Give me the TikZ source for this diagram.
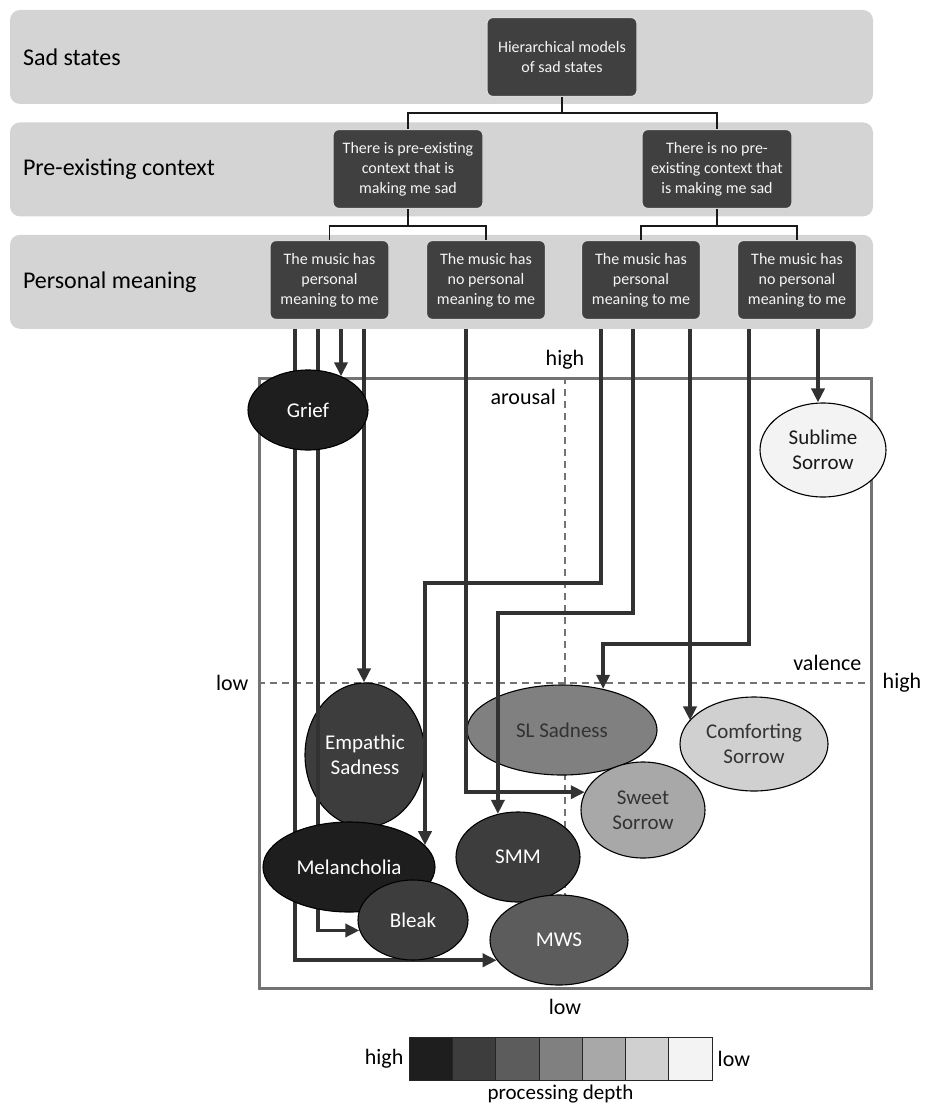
\documentclass[tikz,border=0pt]{standalone}
\usepackage{fontspec}
\setmainfont{Carlito}
\usetikzlibrary{arrows.meta,positioning,shapes.geometric,backgrounds}

\definecolor{bandgray}{HTML}{D4D4D4}
\definecolor{boxgray}{HTML}{404040}
\definecolor{linegray}{HTML}{323232}
\definecolor{framegray}{HTML}{737373}
\definecolor{pd1}{HTML}{1E1E1E}
\definecolor{pd2}{HTML}{3D3D3D}
\definecolor{pd3}{HTML}{5C5C5C}
\definecolor{pd4}{HTML}{808080}
\definecolor{pd5}{HTML}{A8A8A8}
\definecolor{pd6}{HTML}{D0D0D0}
\definecolor{pd7}{HTML}{F3F3F3}

\begin{document}
\begin{tikzpicture}
	[x=1pt, y=-1pt,
	band/.style={rectangle, rounded corners=10pt, fill=bandgray, minimum width=863pt, minimum height=94pt, inner sep=0},
	bandlab/.style={anchor=west, inner sep=2pt, font=\fontsize{24}{28}\selectfont},
	qbox/.style={rectangle, rounded corners=6pt, fill=boxgray, draw=white!85!black, line width=1.2pt, text=white!96!black, align=center, minimum height=79pt, inner sep=0, font=\fontsize{16}{20}\selectfont},
	tree/.style={draw=black!90, line width=1.3pt},
	state/.style={ellipse, draw=black, line width=1.1pt, inner sep=0, align=center, font=\fontsize{21}{25.5}\selectfont},
	lab/.style={inner sep=2pt, font=\fontsize{22}{26}\selectfont},
	axis/.style={draw=framegray, line width=1.8pt, dash pattern=on 7pt off 5pt},
	cell/.style={rectangle, draw=black!85, line width=0.8pt, minimum width=43.3pt, minimum height=43pt, inner sep=0},
	arr/.style={draw=linegray, line width=3.6pt, -{Triangle[length=14pt, width=13pt]}}]
	\useasboundingbox (0,0) rectangle (925,1107);

	% levels of the hierarchy
	\node (band1) [band] at (441.5,57) {};
	\node (band2) [band, below=18pt of band1] {};
	\node (band3) [band, below=18pt of band2] {};
	\node (lsad) [bandlab, right=11pt of band1.west] {Sad states};
	\node (lctx) [bandlab, right=11pt of band2.west] {Pre-existing context};
	\node (lpm) [bandlab, right=11pt of band3.west] {Personal meaning};

	\node (root) [qbox, minimum width=150pt] at (562,57) {Hierarchical models\\of sad states};
	\node (ctx1) [qbox, minimum width=150pt] at (408,169) {There is pre-existing\\context that is\\making me sad};
	\node (ctx2) [qbox, minimum width=150pt] at (717,169) {There is no pre-\\existing context that\\is making me sad};
	\node (pm1) [qbox, minimum width=119pt] at (329.5,280) {The music has\\personal\\meaning to me};
	\node (pm2) [qbox, minimum width=119pt] at (486,280) {The music has\\no personal\\meaning to me};
	\node (pm3) [qbox, minimum width=119pt] at (641,280) {The music has\\personal\\meaning to me};
	\node (pm4) [qbox, minimum width=119pt] at (797,280) {The music has\\no personal\\meaning to me};

	\draw[tree] (root.south) -- ++(0,16) -| (ctx1.north);
	\draw[tree] (root.south) -- ++(0,16) -| (ctx2.north);
	\draw[tree] (ctx1.south) -- ++(0,17) -| (pm1.north);
	\draw[tree] (ctx1.south) -- ++(0,17) -| (pm2.north);
	\draw[tree] (ctx2.south) -- ++(0,17) -| (pm3.north);
	\draw[tree] (ctx2.south) -- ++(0,17) -| (pm4.north);

	% sad states lying over the routes
	\node (grief) [state, fill=pd1, text=white, minimum width=120pt, minimum height=80pt] at (308,410) {Grief};
	\node (melan) [state, fill=pd1, text=white, minimum width=172pt, minimum height=90pt] at (349,867) {Melancholia};
	\node (bleak) [state, fill=pd2, text=white, minimum width=110pt, minimum height=80pt] at (413,920) {Bleak};
	\node (smm) [state, fill=pd2, text=white, minimum width=124pt, minimum height=90pt] at (518,857) {SMM};
	\node (mws) [state, fill=pd3, text=white, minimum width=138pt, minimum height=90pt] at (559,940) {MWS};
	\node (sweet) [state, fill=pd5, text=black!80, minimum width=124pt, minimum height=96pt] at (643,810) {Sweet\\Sorrow};

	\begin{scope}[on background layer]
	% arousal / valence plane
	\node (frame) [rectangle, draw=framegray, line width=3pt, minimum width=612pt, minimum height=610pt, inner sep=0] at (565,683) {};
	\draw[axis] (frame.north) -- (frame.south);
	\draw[axis] (frame.west) -- (frame.east);
	\node (ahigh) [lab, above=5pt of frame.north] {high};
	\node (alow) [lab, below=8pt of frame.south] {low};
	\node (vlow) [lab, left=7pt of frame.west] {low};
	\node (vhigh) [lab, right=8pt of frame.east] {high};
	\node (aro) [lab, below left=11pt and 7pt of frame.north] {arousal};
	\node (val) [lab, above left=10pt and 9pt of frame.east] {valence};

	% sad states lying under the routes
	\node (subl) [state, fill=pd7, text=black!90, minimum width=126pt, minimum height=94pt] at (823,450) {Sublime\\Sorrow};
	\node (emp) [state, fill=pd2, text=white, minimum width=120pt, minimum height=144pt] at (365,755) {Empathic\\Sadness};
	\node (sl) [state, fill=pd4, text=black!80, minimum width=190pt, minimum height=90pt] at (562,730) {SL Sadness};
	\node (comf) [state, fill=pd6, text=black!80, minimum width=148pt, minimum height=94pt] at (754,744) {Comforting\\Sorrow};

	% routes from the personal meaning boxes
	\foreach \n/\s in {p1a/-34.5, p1b/-11.5, p1c/11.5, p1d/34.5}
		\coordinate (\n) at ([xshift=\s pt, yshift=-9pt]pm1.south);
	\coordinate (p2a) at ([xshift=-20pt, yshift=-9pt]pm2.south);
	\foreach \n/\s in {p3a/-40, p3b/-8, p3c/49}
		\coordinate (\n) at ([xshift=\s pt, yshift=-9pt]pm3.south);
	\foreach \n/\s in {p4a/-48, p4b/21}
		\coordinate (\n) at ([xshift=\s pt, yshift=-9pt]pm4.south);

	\draw[arr] (p1a) |- (mws.198);
	\draw[arr] (p1b) |- (bleak.191);
	\draw[arr] (p1c) -- (p1c |- grief.45);
	\draw[arr] (p1d) -- (p1d |- emp.north);
	\draw[arr] (p2a) |- (sweet.163);
	\draw[arr] (p3a) -- ++(0,254) -| (melan.16);
	\draw[arr] (p3b) -- ++(0,284) -| (smm.115);
	\draw[arr] (p3c) -- (p3c |- comf.160);
	\draw[arr] (p4a) -- ++(0,315) -| (sl.45);
	\draw[arr] (p4b) -- (p4b |- subl.north);
	\end{scope}

	% processing depth legend
	\foreach \i in {1,...,7}
		\node (leg\i) [cell, fill=pd\i] at ({409+43.3*(\i-0.5)},1059) {};
	\node (leghigh) [lab, left=3pt of leg1] {high};
	\node (leglow) [lab, right=3pt of leg7] {low};
	\node (legtitle) [lab, below=2pt of leg4, font=\fontsize{21}{25}\selectfont] {processing depth};
\end{tikzpicture}
\end{document}
